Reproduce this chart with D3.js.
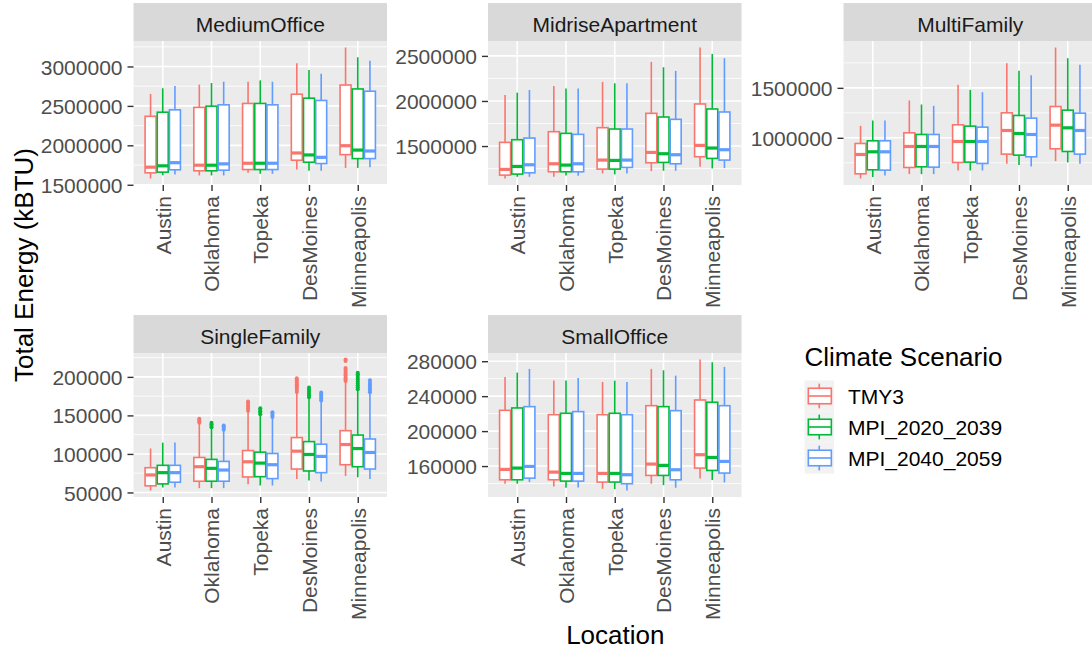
<!DOCTYPE html>
<html>
<head>
<meta charset="utf-8">
<script src="https://cdn.jsdelivr.net/npm/d3@7"></script>
<style>
  body { margin: 0; background: #ffffff; }
  svg { display: block; }
  text { font-family: "Liberation Sans", Arial, sans-serif; }
</style>
</head>
<body>
<svg id="chart" width="1092" height="651"></svg>
<script>
// ---- data -------------------------------------------------------------
const buildings = ["MediumOffice", "MidriseApartment", "MultiFamily", "SingleFamily", "SmallOffice"];
const locations = ["Austin", "Oklahoma", "Topeka", "DesMoines", "Minneapolis"];
const scenarios = ["TMY3", "MPI_2020_2039", "MPI_2040_2059"];
const scenarioColors = ["#F8766D", "#00BA38", "#619CFF"];

// box statistics per scenario, per location: [lower whisker, Q1, median, Q3, upper whisker]
const mediumOffice = [
  [[1580000, 1651000, 1723000, 2368000, 2652000], [1618000, 1677000, 1748000, 2481000, 2770000], [1651000, 1693000, 1773000, 2531000, 2807000], [1693000, 1811000, 1903000, 2648000, 3042000], [1714000, 1882000, 1995000, 2765000, 3240000]],
  [[1620000, 1660000, 1740000, 2420000, 2724000], [1618000, 1677000, 1748000, 2497000, 2790000], [1639000, 1693000, 1773000, 2531000, 2824000], [1677000, 1786000, 1878000, 2598000, 2954000], [1714000, 1832000, 1940000, 2715000, 3117000]],
  [[1630000, 1690000, 1780000, 2450000, 2752000], [1618000, 1685000, 1765000, 2514000, 2807000], [1639000, 1693000, 1773000, 2514000, 2807000], [1677000, 1769000, 1848000, 2569000, 2908000], [1723000, 1832000, 1928000, 2686000, 3071000]]
];
const midriseApartment = [
  [[1140700, 1177700, 1240700, 1540700, 2066700], [1159000, 1214700, 1303600, 1659200, 2166700], [1196300, 1244400, 1344400, 1703700, 2211100], [1222200, 1314800, 1429600, 1863000, 2433000], [1270400, 1381500, 1507400, 1966700, 2592600]],
  [[1159000, 1188800, 1274000, 1570300, 2092600], [1174000, 1214700, 1288900, 1640700, 2137000], [1185000, 1244400, 1340700, 1688900, 2196300], [1225900, 1318500, 1414800, 1822200, 2374000], [1251900, 1363000, 1477800, 1911100, 2522200]],
  [[1159000, 1203600, 1292500, 1588800, 2122000], [1170000, 1214700, 1303600, 1629600, 2137000], [1196300, 1263000, 1344400, 1688900, 2196300], [1225900, 1303600, 1403700, 1796300, 2333300], [1255600, 1344400, 1459300, 1877800, 2474000]]
];
const multiFamily = [
  [[593300, 640000, 833300, 943300, 1120000], [636700, 703300, 913300, 1050000, 1373300], [673300, 753300, 963300, 1130000, 1530000], [740000, 836700, 1073300, 1250000, 1746700], [766700, 890000, 1126700, 1313300, 1903300]],
  [[606700, 680000, 860000, 970000, 1173300], [636700, 710000, 913300, 1033300, 1333300], [673300, 756700, 963300, 1116700, 1480000], [726700, 826700, 1043300, 1223300, 1670000], [753300, 863300, 1100000, 1276700, 1796700]],
  [[623300, 676700, 860000, 970000, 1173300], [636700, 706700, 913300, 1033300, 1320000], [673300, 743300, 963300, 1106700, 1456700], [713300, 810000, 1033300, 1196700, 1626700], [740000, 836700, 1073300, 1246700, 1730000]]
];
const singleFamily = [
  [[52600, 58600, 72700, 82100, 107000], [55600, 64600, 83400, 95400, 139000], [60800, 70100, 89800, 104400, 154500], [67600, 80400, 103600, 121200, 179000], [71400, 86000, 112200, 130200, 193000]],
  [[56400, 61100, 75700, 85200, 114700], [55600, 64600, 81300, 92900, 133500], [59000, 70500, 88100, 102300, 150000], [65400, 77900, 99300, 116000, 172000], [69700, 83400, 107000, 124500, 182500]],
  [[56400, 63300, 75700, 85200, 114700], [55600, 64600, 79100, 90300, 130000], [59000, 68000, 86000, 100600, 146500], [64100, 75700, 96800, 112600, 168000], [67600, 80400, 101900, 119400, 178500]]
];
const smallOffice = [
  [[139800, 144300, 156200, 223800, 262000], [136700, 144300, 153100, 218800, 257800], [134000, 141700, 151600, 218800, 256300], [139800, 149300, 162300, 229100, 271200], [145900, 157700, 173000, 235600, 281900]],
  [[139800, 144300, 157700, 226500, 267000], [135200, 142800, 151600, 220400, 257800], [133600, 141700, 151600, 220400, 257800], [138200, 149300, 160800, 228000, 269600], [144000, 155000, 169900, 233000, 278800]],
  [[141700, 146200, 159600, 228000, 271200], [135600, 142800, 151600, 222300, 260800], [132100, 139800, 150100, 218800, 256300], [135200, 144300, 155800, 223400, 263500], [141300, 152000, 165300, 229100, 273500]]
];

// outlying observations above the upper whisker (SingleFamily only)
const singleFamilyOutliers = [
  [[], [140500, 142500, 144500, 145500], [156000, 158500, 161000, 163500, 166000, 167900], [180500, 183000, 185500, 188000, 190500, 193000, 195500, 198300], [194500, 197000, 199500, 202000, 204500, 207000, 209500, 211500, 220500, 222500]],
  [[], [134500, 136500, 138500, 140400], [151500, 153500, 155500, 157500, 159300], [173500, 176000, 178500, 181000, 183500, 186300], [184000, 186500, 189000, 191500, 194000, 196500, 199000, 201500, 203500, 205500]],
  [[], [131500, 133500, 135500, 137000], [148000, 150000, 152000, 154100], [169500, 172000, 174500, 177000, 179800], [180000, 182500, 185000, 187500, 190000, 192500, 195700]]
];

// y-axis breaks per panel
const mediumOfficeTicks = [1500000, 2000000, 2500000, 3000000];
const midriseApartmentTicks = [1500000, 2000000, 2500000];
const multiFamilyTicks = [1000000, 1500000];
const singleFamilyTicks = [50000, 100000, 150000, 200000];
const smallOfficeTicks = [160000, 200000, 240000, 280000];

const panelStats = [mediumOffice, midriseApartment, multiFamily, singleFamily, smallOffice];
const panelTicks = [mediumOfficeTicks, midriseApartmentTicks, multiFamilyTicks, singleFamilyTicks, smallOfficeTicks];
const panelOutliers = [null, null, null, singleFamilyOutliers, null];

// ---- layout -----------------------------------------------------------
const svg = d3.select("#chart");
const colLeft = [133.5, 488, 843.5];
const stripTop = [3, 315];
const panelW = 253.5, panelH = 144, stripH = 38;
const FONT = '"Liberation Sans", Arial, sans-serif';

const x = d3.scalePoint().domain(locations).range([0, panelW]).padding(0.6);
const step = x.step();
const slot = 0.25 * step;        // dodge spacing between scenarios
const boxW = 0.9 * slot;         // box width

buildings.forEach((name, i) => {
  const col = i % 3, row = Math.floor(i / 3);
  const stats = panelStats[i];
  const outs = panelOutliers[i];
  const ticks = panelTicks[i];

  // value range incl. outliers, expanded by 5% on both sides
  let vals = stats.flat(2);
  if (outs) vals = vals.concat(outs.flat(2));
  const [lo, hi] = d3.extent(vals);
  const pad = (hi - lo) * 0.05;
  const y = d3.scaleLinear().domain([lo - pad, hi + pad]).range([panelH, 0]);

  const g = svg.append("g")
    .attr("transform", `translate(${colLeft[col]},${stripTop[row] + stripH})`);

  // panel background
  g.append("rect").attr("width", panelW).attr("height", panelH).attr("fill", "#EBEBEB");

  // minor grid (half-way between breaks)
  const half = (ticks[1] - ticks[0]) / 2;
  const minor = [ticks[0] - half].concat(ticks.map(t => t + half))
    .filter(v => v >= y.domain()[0] && v <= y.domain()[1]);
  g.selectAll(".minor").data(minor).join("line")
    .attr("x1", 0).attr("x2", panelW)
    .attr("y1", d => y(d)).attr("y2", d => y(d))
    .attr("stroke", "#ffffff").attr("stroke-width", 0.8);

  // major grid
  g.selectAll(".major").data(ticks).join("line")
    .attr("x1", 0).attr("x2", panelW)
    .attr("y1", d => y(d)).attr("y2", d => y(d))
    .attr("stroke", "#ffffff").attr("stroke-width", 1.6);
  g.selectAll(".vmajor").data(locations).join("line")
    .attr("x1", d => x(d)).attr("x2", d => x(d))
    .attr("y1", 0).attr("y2", panelH)
    .attr("stroke", "#ffffff").attr("stroke-width", 1.6);

  // boxes
  scenarios.forEach((sc, s) => {
    const color = scenarioColors[s];
    locations.forEach((loc, l) => {
      const [wLo, q1, med, q3, wHi] = stats[s][l];
      const cx = x(loc) + (s - 1) * slot;
      const bg = g.append("g");
      bg.append("line").attr("x1", cx).attr("x2", cx).attr("y1", y(q3)).attr("y2", y(wHi))
        .attr("stroke", color).attr("stroke-width", 1.6);
      bg.append("line").attr("x1", cx).attr("x2", cx).attr("y1", y(q1)).attr("y2", y(wLo))
        .attr("stroke", color).attr("stroke-width", 1.6);
      bg.append("rect").attr("x", cx - boxW / 2).attr("width", boxW)
        .attr("y", y(q3)).attr("height", y(q1) - y(q3))
        .attr("fill", "#ffffff").attr("stroke", color).attr("stroke-width", 1.6);
      bg.append("line").attr("x1", cx - boxW / 2).attr("x2", cx + boxW / 2)
        .attr("y1", y(med)).attr("y2", y(med))
        .attr("stroke", color).attr("stroke-width", 3.2);
      if (outs) {
        bg.selectAll("circle").data(outs[s][l]).join("circle")
          .attr("cx", cx).attr("cy", d => y(d)).attr("r", 2)
          .attr("fill", color);
      }
    });
  });

  // strip
  g.append("rect").attr("x", 0).attr("y", -stripH).attr("width", panelW).attr("height", stripH)
    .attr("fill", "#D9D9D9");
  g.append("text").attr("x", panelW / 2).attr("y", -9.3)
    .attr("text-anchor", "middle").attr("font-size", 21).attr("fill", "#1A1A1A")
    .text(name);

  // y axis
  const ya = g.append("g")
    .call(d3.axisLeft(y).tickValues(ticks).tickSize(6).tickPadding(5).tickFormat(d3.format("d")));
  ya.attr("font-family", FONT).attr("font-size", 21);
  ya.select(".domain").remove();
  ya.selectAll(".tick line").attr("stroke", "#333333").attr("stroke-width", 1.4);
  ya.selectAll(".tick text").attr("fill", "#4D4D4D").attr("dy", "0.36em");

  // x axis with vertical labels
  const xa = g.append("g").attr("transform", `translate(0,${panelH})`)
    .call(d3.axisBottom(x).tickSize(6).tickPadding(5));
  xa.attr("font-family", FONT).attr("font-size", 21);
  xa.select(".domain").remove();
  xa.selectAll(".tick line").attr("stroke", "#333333").attr("stroke-width", 1.4);
  xa.selectAll(".tick text")
    .attr("fill", "#4D4D4D")
    .attr("transform", "rotate(-90)")
    .attr("text-anchor", "end")
    .attr("x", -11).attr("y", 0).attr("dy", "0.35em");
});

// axis titles
svg.append("text")
  .attr("transform", "translate(33,265) rotate(-90)")
  .attr("text-anchor", "middle").attr("font-size", 26).attr("fill", "#000000")
  .text("Total Energy (kBTU)");
svg.append("text")
  .attr("x", 615.3).attr("y", 644)
  .attr("text-anchor", "middle").attr("font-size", 26).attr("fill", "#000000")
  .text("Location");

// legend
const legend = svg.append("g").attr("transform", "translate(804.5,380.5)");
const keyW = 29.5, keyH = 31;
legend.append("text").attr("x", 0).attr("y", -14.5)
  .attr("font-size", 26).attr("fill", "#000000").text("Climate Scenario");
scenarios.forEach((sc, s) => {
  const k = legend.append("g").attr("transform", `translate(0,${s * keyH})`);
  const c = scenarioColors[s];
  k.append("rect").attr("width", keyW).attr("height", keyH).attr("fill", "#F2F2F2");
  k.append("line").attr("x1", keyW / 2).attr("x2", keyW / 2).attr("y1", keyH * 0.1).attr("y2", keyH * 0.25)
    .attr("stroke", c).attr("stroke-width", 1.6);
  k.append("line").attr("x1", keyW / 2).attr("x2", keyW / 2).attr("y1", keyH * 0.75).attr("y2", keyH * 0.9)
    .attr("stroke", c).attr("stroke-width", 1.6);
  k.append("rect").attr("x", keyW * 0.13).attr("width", keyW * 0.78)
    .attr("y", keyH * 0.25).attr("height", keyH * 0.5)
    .attr("fill", "#ffffff").attr("stroke", c).attr("stroke-width", 1.6);
  k.append("line").attr("x1", keyW * 0.13).attr("x2", keyW * 0.91)
    .attr("y1", keyH * 0.5).attr("y2", keyH * 0.5)
    .attr("stroke", c).attr("stroke-width", 1.6);
  k.append("text").attr("x", 43.5).attr("y", keyH / 2).attr("dy", "0.36em")
    .attr("font-size", 21).attr("fill", "#000000").text(sc);
});
</script>
</body>
</html>
